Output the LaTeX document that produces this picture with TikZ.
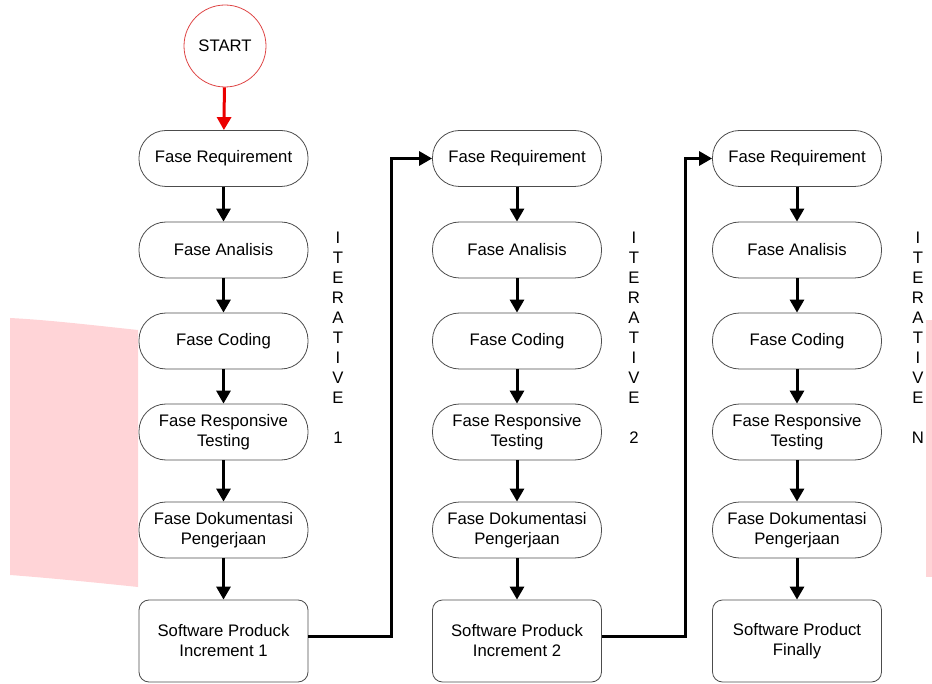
\documentclass[tikz,border=0pt]{standalone}
\usepackage{fontspec}
\setmainfont{Liberation Sans}
\usetikzlibrary{arrows.meta,positioning,calc}
\definecolor{pinkbg}{RGB}{255,212,215}
\definecolor{startred}{RGB}{222,70,70}
\definecolor{arrred}{RGB}{235,0,0}
\begin{document}
\begin{tikzpicture}[x=1pt,y=-1pt,
  every node/.style={font=\fontsize{16.7}{20}\selectfont},
  phase/.style={draw=black!70, line width=0.8pt, rounded corners=27pt,
    minimum width=169pt, minimum height=56pt, align=center, inner sep=2pt},
  prodbox/.style={draw=black!70, line width=0.8pt, rounded corners=10pt,
    minimum width=169pt, minimum height=82pt, align=center, inner sep=2pt},
  conn/.style={line width=3pt, -{Triangle[length=13pt,width=14pt]}},
  iterlbl/.style={align=center, inner sep=0pt}
]
\useasboundingbox (0,0) rectangle (932,684);
% pink background shapes
\fill[pinkbg] (10,318) .. controls (50,320) and (100,326) .. (138,330) -- (138,587) .. controls (100,583) and (50,578) .. (10,575) -- cycle;
\fill[pinkbg] (926,320) rectangle (932,577);

% start
\node[draw=startred, line width=0.8pt, circle, minimum size=82pt, inner sep=0pt] (start) at (225,46) {START};

% columns
\foreach \c/\x/\last/\lastb in {1/223.5/Software Produck/Increment 1, 2/517/Software Produck/Increment 2, 3/797/Software Product/Finally}{
  \node[phase] (r\c) at (\x,158.5) {Fase Requirement};
  \node[phase] (a\c) at (\x,250) {Fase Analisis};
  \node[phase] (k\c) at (\x,341) {Fase Coding};
  \node[phase] (t\c) at (\x,432) {Fase Responsive\\Testing};
  \node[phase] (d\c) at (\x,530) {Fase Dokumentasi\\Pengerjaan};
  \node[prodbox] (s\c) at (\x,641) {\last\\\lastb};
  \draw[conn] (r\c) -- (a\c);
  \draw[conn] (a\c) -- (k\c);
  \draw[conn] (k\c) -- (t\c);
  \draw[conn] (t\c) -- (d\c);
  \draw[conn] (d\c) -- (s\c);
}

\draw[line width=3pt, arrred, -{Triangle[length=13pt,width=14pt]}] (start) -- (r1);

% iterative labels
\node[iterlbl] (it1) at (338,338) {I\\T\\E\\R\\A\\T\\I\\V\\E\\\mbox{}\\1};
\node[iterlbl] (it2) at (634,338) {I\\T\\E\\R\\A\\T\\I\\V\\E\\\mbox{}\\2};
\node[iterlbl] (it3) at (918,338) {I\\T\\E\\R\\A\\T\\I\\V\\E\\\mbox{}\\N};

% connections between iterations
\draw[conn, line join=miter] ([yshift=5pt]s1.east) -- ++(83,0) |- (r2.west);
\draw[conn, line join=miter] ([yshift=5pt]s2.east) -- ++(84,0) |- (r3.west);
\end{tikzpicture}
\end{document}
